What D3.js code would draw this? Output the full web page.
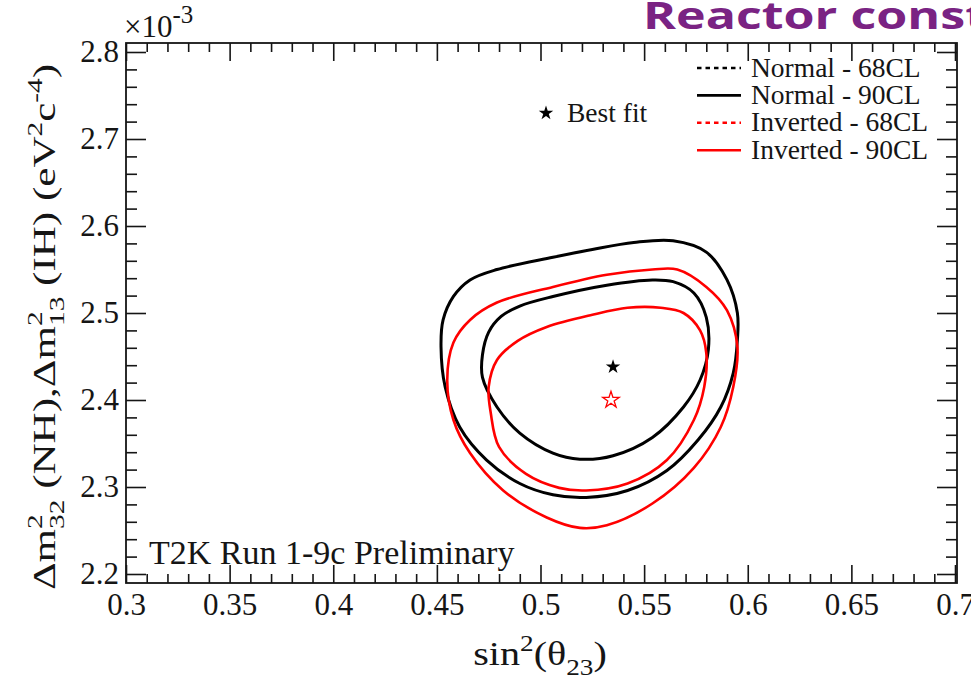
<!DOCTYPE html>
<html>
<head>
<meta charset="utf-8">
<script src="https://cdn.jsdelivr.net/npm/d3@7"></script>
<style>
  html, body { margin: 0; padding: 0; background: #fff; }
  svg { display: block; }
</style>
</head>
<body>
<svg id="chart" width="971" height="678"></svg>
<script>
// Allowed regions in the (sin²θ23, Δm²) plane; Δm² values are in units of 1e-3 eV²c⁻⁴.
const normal68 = [
  [0.554,2.538],[0.564,2.536],[0.574,2.523],[0.580,2.495],[0.581,2.458],[0.577,2.423],
  [0.569,2.392],[0.554,2.357],[0.535,2.336],[0.519,2.332],[0.506,2.339],[0.490,2.362],
  [0.479,2.392],[0.472,2.426],[0.472,2.452],[0.475,2.478],[0.481,2.496],[0.490,2.508],
  [0.506,2.519],[0.532,2.532]
];
const normal90 = [
  [0.479,2.550],[0.506,2.564],[0.525,2.573],[0.545,2.581],[0.564,2.583],[0.580,2.570],
  [0.590,2.538],[0.595,2.500],[0.595,2.469],[0.593,2.431],[0.587,2.392],[0.576,2.354],
  [0.561,2.319],[0.542,2.296],[0.522,2.288],[0.506,2.291],[0.490,2.304],[0.474,2.331],
  [0.461,2.369],[0.454,2.415],[0.452,2.461],[0.453,2.492],[0.458,2.519],[0.466,2.538]
];
const inverted68 = [
  [0.558,2.506],[0.569,2.500],[0.577,2.480],[0.580,2.454],[0.579,2.415],[0.574,2.377],
  [0.561,2.331],[0.542,2.304],[0.522,2.296],[0.509,2.299],[0.493,2.315],[0.480,2.346],
  [0.476,2.385],[0.475,2.415],[0.479,2.446],[0.489,2.468],[0.503,2.484],[0.525,2.498],
  [0.542,2.506]
];
const inverted90 = [
  [0.554,2.550],[0.566,2.550],[0.580,2.530],[0.590,2.503],[0.595,2.461],[0.593,2.415],
  [0.587,2.369],[0.574,2.322],[0.554,2.281],[0.532,2.256],[0.519,2.253],[0.503,2.265],
  [0.482,2.296],[0.466,2.339],[0.458,2.377],[0.455,2.423],[0.458,2.466],[0.466,2.492],
  [0.479,2.512],[0.506,2.530],[0.532,2.544]
];
// Best-fit points
const normalBestFit = [0.535, 2.438];
const invertedBestFit = [0.534, 2.400];

// Axis ticks
const xTickValues = [0.3, 0.35, 0.4, 0.45, 0.5, 0.55, 0.6, 0.65, 0.7];
const yTickValues = [2.2, 2.3, 2.4, 2.5, 2.6, 2.7, 2.8];

// Legend
const legendLabels = ["Normal - 68CL", "Normal - 90CL", "Inverted - 68CL", "Inverted - 90CL"];
const legendColors = ["#000", "#000", "#ff0000", "#ff0000"];
const legendDotted = [true, false, true, false];

const svg = d3.select("#chart");
const serif = "'Liberation Serif', 'DejaVu Serif', serif";
const ink = "#151515";

const frame = { left: 126, right: 957, top: 43, bottom: 583 };
const x = d3.scaleLinear().domain([0.3, 0.7]).range([126, 955]);
const y = d3.scaleLinear().domain([2.2, 2.8]).range([574, 52]);

// Title (runs past the right edge)
svg.append("text")
  .attr("transform", "translate(643,29) scale(1.32,1)")
  .attr("font-family", "'Open Sans', 'Noto Sans', sans-serif")
  .attr("font-weight", 700)
  .attr("font-size", 38)
  .attr("fill", "#7a2383")
  .text("Reactor constraint");

// Contours
const line = d3.line()
  .x(d => x(d[0])).y(d => y(d[1]))
  .curve(d3.curveCatmullRomClosed.alpha(0.5));

const contours = [
  { pts: normal90, color: "#000", w: 3 },
  { pts: normal68, color: "#000", w: 3 },
  { pts: inverted90, color: "#ff0000", w: 2.6 },
  { pts: inverted68, color: "#ff0000", w: 2.6 }
];
svg.append("g").selectAll("path").data(contours).join("path")
  .attr("d", d => line(d.pts))
  .attr("fill", "none")
  .attr("stroke", d => d.color)
  .attr("stroke-width", d => d.w)
  .attr("stroke-linejoin", "round");

// Best-fit markers
const star = d3.symbol().type(d3.symbolStar);
svg.append("path")
  .attr("transform", `translate(${x(normalBestFit[0])},${y(normalBestFit[1])})`)
  .attr("d", star.size(65)())
  .attr("fill", "#000");
svg.append("path")
  .attr("transform", `translate(${x(invertedBestFit[0])},${y(invertedBestFit[1])})`)
  .attr("d", star.size(85)())
  .attr("fill", "none").attr("stroke", "#ff0000").attr("stroke-width", 1.3);

// Axes: ticks on all four sides, pointing inwards
const fmt = d => String(+d.toFixed(2));
const xMinor = d3.range(0, 41).map(i => +(0.3 + i * 0.01).toFixed(3))
  .filter(v => !xTickValues.some(t => Math.abs(t - v) < 1e-6));
const yMinor = d3.range(-1, 32).map(i => +(2.2 + i * 0.02).toFixed(3))
  .filter(v => y(v) > frame.top && y(v) < frame.bottom && !yTickValues.some(t => Math.abs(t - v) < 1e-6));

function styleAxis(g) {
  g.select(".domain").remove();
  g.selectAll(".tick line").attr("stroke", ink).attr("stroke-width", 1.6);
  g.selectAll(".tick text").attr("font-family", serif).attr("font-size", 31).attr("fill", ink);
}

// bottom
svg.append("g").attr("transform", `translate(0,${frame.bottom})`)
  .call(d3.axisBottom(x).tickValues(xTickValues).tickFormat(fmt).tickSize(-18).tickPadding(10))
  .call(styleAxis);
svg.append("g").attr("transform", `translate(0,${frame.bottom})`)
  .call(d3.axisBottom(x).tickValues(xMinor).tickFormat("").tickSize(-9))
  .call(styleAxis);
// top
svg.append("g").attr("transform", `translate(0,${frame.top})`)
  .call(d3.axisTop(x).tickValues(xTickValues).tickFormat("").tickSize(-18))
  .call(styleAxis);
svg.append("g").attr("transform", `translate(0,${frame.top})`)
  .call(d3.axisTop(x).tickValues(xMinor).tickFormat("").tickSize(-9))
  .call(styleAxis);
// left
svg.append("g").attr("transform", `translate(${frame.left},0)`)
  .call(d3.axisLeft(y).tickValues(yTickValues).tickFormat(fmt).tickSize(-20).tickPadding(7))
  .call(styleAxis);
svg.append("g").attr("transform", `translate(${frame.left},0)`)
  .call(d3.axisLeft(y).tickValues(yMinor).tickFormat("").tickSize(-11))
  .call(styleAxis);
// right
svg.append("g").attr("transform", `translate(${frame.right},0)`)
  .call(d3.axisRight(y).tickValues(yTickValues).tickFormat("").tickSize(-20))
  .call(styleAxis);
svg.append("g").attr("transform", `translate(${frame.right},0)`)
  .call(d3.axisRight(y).tickValues(yMinor).tickFormat("").tickSize(-11))
  .call(styleAxis);

// Frame
svg.append("rect")
  .attr("x", frame.left).attr("y", frame.top)
  .attr("width", frame.right - frame.left).attr("height", frame.bottom - frame.top)
  .attr("fill", "none").attr("stroke", ink).attr("stroke-width", 1.8);

// Exponent
const expo = svg.append("text").attr("x", 124).attr("y", 37)
  .attr("font-family", serif).attr("font-size", 31).attr("fill", ink);
expo.append("tspan").text("×10");
expo.append("tspan").attr("dy", -14).attr("font-size", 25).text("-3");

// Rich text helper: segments with optional sup/sub, a sub may stack under the previous sup
function richText(sel, segs, size) {
  const t = sel.append("text").attr("font-family", serif).attr("font-size", size).attr("fill", ink);
  let shift = 0, lastSup = null;
  segs.forEach(s => {
    const target = s.sup ? -0.42 * size : s.sub ? 0.28 * size : 0;
    const sp = t.append("tspan").attr("dy", target - shift).text(s.t);
    if (s.sup || s.sub) sp.attr("font-size", size * 0.68);
    if (s.stack && lastSup) sp.attr("dx", -lastSup.node().getComputedTextLength());
    lastSup = s.sup ? sp : null;
    shift = target;
  });
  return t;
}

// Y title (stretched along its length)
const yTitle = svg.append("g").attr("transform", "translate(55,327) rotate(-90) scale(1.39,1)");
const yt = richText(yTitle, [
  { t: "Δm" }, { t: "2", sup: true }, { t: "32", sub: true, stack: true },
  { t: " (NH),Δm" }, { t: "2", sup: true }, { t: "13", sub: true, stack: true },
  { t: " (IH) (eV" }, { t: "2", sup: true }, { t: "c" }, { t: "-4", sup: true }, { t: ")" }
], 31);
yt.attr("x", -yt.node().getBBox().width / 2);

// X title
const xTitle = svg.append("g").attr("transform", "translate(540,665) scale(1.18,1)");
const xt = richText(xTitle, [
  { t: "sin" }, { t: "2", sup: true }, { t: "(θ" }, { t: "23", sub: true }, { t: ")" }
], 34);
xt.attr("x", -xt.node().getBBox().width / 2);

// Legend
const leg = svg.append("g").selectAll("g").data(legendLabels).join("g")
  .attr("transform", (d, i) => `translate(697,${68 + i * 27.4})`);
leg.append("line")
  .attr("x1", 0).attr("x2", 44)
  .attr("stroke", (d, i) => legendColors[i])
  .attr("stroke-width", 2.6)
  .attr("stroke-dasharray", (d, i) => legendDotted[i] ? "4.5,4" : null);
leg.append("text")
  .attr("x", 54).attr("y", 8.5)
  .attr("font-family", serif).attr("font-size", 27.5).attr("fill", ink)
  .text(d => d);

// Best-fit key
svg.append("path").attr("transform", "translate(546,113)").attr("d", star.size(65)()).attr("fill", "#000");
svg.append("text").attr("x", 567).attr("y", 122)
  .attr("font-family", serif).attr("font-size", 27.5).attr("fill", ink)
  .text("Best fit");

// Run label
svg.append("text").attr("x", 149).attr("y", 564)
  .attr("font-family", serif).attr("font-size", 34).attr("fill", ink)
  .text("T2K Run 1-9c Preliminary");
</script>
</body>
</html>
